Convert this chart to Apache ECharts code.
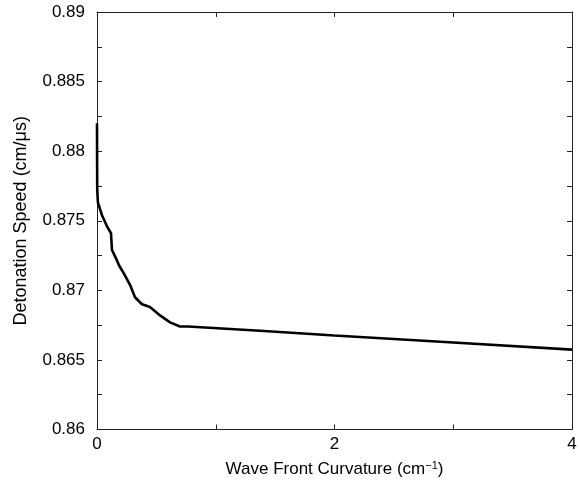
<!DOCTYPE html>
<html>
<head>
<meta charset="utf-8">
<script src="https://cdn.jsdelivr.net/npm/echarts@6/dist/echarts.min.js"></script>
<style>
  html, body { margin: 0; padding: 0; background: #fff; }
  #chart { width: 580px; height: 483px; }
</style>
</head>
<body>
<div id="chart"></div>
<script>
  // curvature (cm^-1) and detonation speed (cm/us)
  const curvature = [0, 0.001, 0.002, 0.008, 0.042, 0.084, 0.118, 0.126, 0.160, 0.185,
    0.227, 0.278, 0.320, 0.379, 0.446, 0.531, 0.615, 0.699, 0.766, 1.373, 2.0, 3.0, 4.0];
  const speed = [0.8820, 0.8790, 0.8772, 0.8763, 0.8754, 0.8746, 0.8741, 0.8729, 0.8723, 0.8718,
    0.8712, 0.8704, 0.8695, 0.8690, 0.8688, 0.8682, 0.8677, 0.8674, 0.8674, 0.8671, 0.86675, 0.86625, 0.86574];

  const xTickLabels = ["0", "2", "4"];
  const yTickLabels = ["0.86", "0.865", "0.87", "0.875", "0.88", "0.885", "0.89"];

  const xRange = [0, 4];
  const yRange = [0.86, 0.89];

  const font = "Liberation Sans, Arial, Helvetica, sans-serif";
  const axisColor = "#222";

  const chart = echarts.init(document.getElementById("chart"));

  // ticks every half label step, all pointing inwards
  const tickStyle = {
    axisLine: { show: true, onZero: false, lineStyle: { color: axisColor, width: 1 } },
    axisTick: { show: true, inside: true, length: 5, lineStyle: { color: axisColor } },
    splitLine: { show: false },
  };

  const pickLabel = (labels, v) => {
    const s = String(Number(v.toFixed(4)));
    return labels.includes(s) ? s : "";
  };

  const option = {
    animation: false,
    grid: { left: 97, right: 8, top: 12, bottom: 53 },
    xAxis: [
      {
        type: "value",
        min: xRange[0],
        max: xRange[1],
        interval: 1,
        ...tickStyle,
        axisLabel: {
          color: "#000",
          fontSize: 17,
          fontFamily: font,
          margin: 6,
          formatter: (v) => pickLabel(xTickLabels, v),
        },
        name: "Wave Front Curvature (cm{sup|−1})",
        nameLocation: "middle",
        nameGap: 31,
        nameTextStyle: {
          color: "#000",
          fontSize: 17,
          fontFamily: font,
          rich: { sup: { fontSize: 11, verticalAlign: "top", padding: [0, 0, 7, 0] } },
        },
      },
      {
        type: "value",
        position: "top",
        min: xRange[0],
        max: xRange[1],
        interval: 1,
        ...tickStyle,
        axisLabel: { show: false },
      },
    ],
    yAxis: [
      {
        type: "value",
        min: yRange[0],
        max: yRange[1],
        interval: 0.0025,
        ...tickStyle,
        axisLabel: {
          color: "#000",
          fontSize: 17,
          fontFamily: font,
          margin: 12,
          formatter: (v) => pickLabel(yTickLabels, v),
        },
        name: "Detonation Speed (cm/μs)",
        nameLocation: "middle",
        nameGap: 67,
        nameTextStyle: { color: "#000", fontSize: 18, fontFamily: font },
      },
      {
        type: "value",
        position: "right",
        min: yRange[0],
        max: yRange[1],
        interval: 0.0025,
        ...tickStyle,
        axisLabel: { show: false },
      },
    ],
    series: [
      {
        type: "line",
        data: curvature.map((c, i) => [c, speed[i]]),
        showSymbol: false,
        lineStyle: { color: "#000", width: 2.6 },
        clip: true,
      },
    ],
  };

  chart.setOption(option);
</script>
</body>
</html>
